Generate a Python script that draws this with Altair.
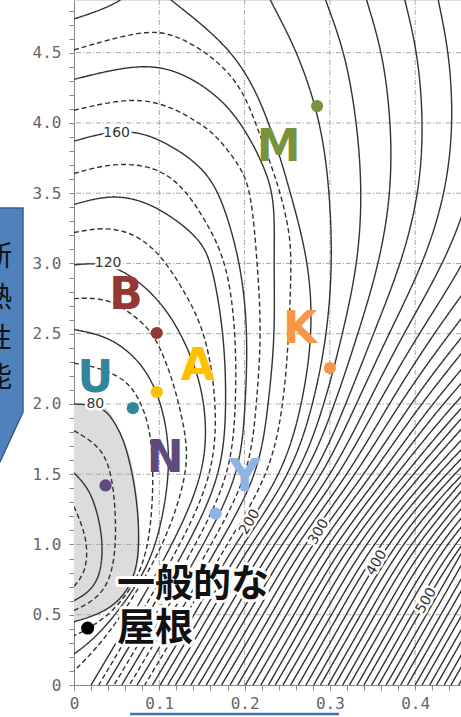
import altair as alt
import pandas as pd

# Plot window (chart units)
X_MAX = 0.4537
Y_MAX = 4.875

# Closed / left-anchored contour curves, (x, y) points per contour level
ARC_POINTS = {
    50: [(0.0, 1.27), (0.012, 1.1), (0.016, 0.95), (0.013, 0.8), (0.0, 0.7)],
    60: [(0.0, 1.51), (0.019, 1.39), (0.03, 1.17), (0.034, 0.98), (0.031, 0.78), (0.018, 0.66), (0.0, 0.6)],
    70: [(0.0, 1.81), (0.034, 1.69), (0.046, 1.46), (0.05, 1.1), (0.046, 0.8), (0.03, 0.62), (0.0, 0.53)],
    80: [(0.0, 2.0), (0.034, 1.99), (0.05, 1.85), (0.062, 1.69), (0.074, 1.34), (0.077, 1.0),
         (0.072, 0.78), (0.055, 0.6), (0.028, 0.5), (0.0, 0.45)],
    90: [(0.0, 2.29), (0.03, 2.26), (0.062, 2.17), (0.077, 2.03), (0.089, 1.84), (0.094, 1.5),
         (0.089, 1.0), (0.072, 0.72), (0.045, 0.52), (0.02, 0.41), (0.0, 0.35)],
    100: [(0.0, 2.53), (0.042, 2.48), (0.077, 2.31), (0.097, 2.1), (0.109, 1.84), (0.113, 1.5),
          (0.098, 1.0), (0.075, 0.72), (0.045, 0.47), (0.02, 0.31), (0.0, 0.22)],
    110: [(0.0, 2.75), (0.042, 2.76), (0.081, 2.58), (0.097, 2.46), (0.113, 2.22), (0.124, 1.98),
          (0.132, 1.74), (0.133, 1.5), (0.107, 1.0), (0.057, 0.5), (0.025, 0.25), (0.0, 0.1)],
    120: [(0.0, 2.99), (0.04, 3.01), (0.081, 2.86), (0.116, 2.62), (0.144, 2.26), (0.156, 1.91),
          (0.153, 1.5), (0.116, 1.0), (0.069, 0.5), (0.02, 0.0)],
    130: [(0.0, 3.22), (0.035, 3.26), (0.069, 3.22), (0.1, 3.08), (0.13, 2.8), (0.155, 2.5),
          (0.168, 2.0), (0.164, 1.5), (0.125, 1.0), (0.078, 0.5), (0.029, 0.0)],
    140: [(0.0, 3.42), (0.042, 3.49), (0.081, 3.45), (0.116, 3.33), (0.148, 3.17), (0.162, 3.0),
          (0.176, 2.5), (0.179, 2.0), (0.174, 1.5), (0.134, 1.0), (0.087, 0.5), (0.038, 0.0)],
    150: [(0.0, 3.64), (0.047, 3.72), (0.097, 3.69), (0.129, 3.54), (0.155, 3.3), (0.18, 3.0),
          (0.19, 2.5), (0.19, 2.0), (0.184, 1.5), (0.143, 1.0), (0.096, 0.5), (0.047, 0.0)],
    160: [(0.0, 3.87), (0.04, 3.94), (0.079, 3.94), (0.117, 3.83), (0.149, 3.69), (0.172, 3.5),
          (0.196, 3.0), (0.204, 2.5), (0.201, 2.0), (0.195, 1.5), (0.152, 1.0), (0.105, 0.5), (0.056, 0.0)],
    170: [(0.0, 4.09), (0.07, 4.19), (0.117, 4.11), (0.146, 4.0), (0.164, 3.93), (0.196, 3.69),
          (0.208, 3.5), (0.215, 3.0), (0.22, 2.5), (0.214, 2.0), (0.206, 1.5), (0.161, 1.0),
          (0.114, 0.5), (0.065, 0.0)],
    180: [(0.0, 4.31), (0.079, 4.43), (0.129, 4.36), (0.176, 4.16), (0.203, 3.93), (0.223, 3.69),
          (0.236, 3.45), (0.234, 3.0), (0.236, 2.5), (0.228, 2.0), (0.217, 1.5), (0.17, 1.0),
          (0.123, 0.5), (0.074, 0.0)],
    190: [(0.0, 4.52), (0.079, 4.66), (0.117, 4.64), (0.164, 4.47), (0.196, 4.26), (0.213, 4.0),
          (0.241, 3.54), (0.253, 3.22), (0.255, 3.0), (0.252, 2.5), (0.246, 2.0), (0.23, 1.5),
          (0.179, 1.0), (0.132, 0.5), (0.083, 0.0)],
}

# Short branch of the 200 contour leaving through the top edge
TOP_200 = [(0.0, 4.74), (0.03, 4.8), (0.055, 4.87), (0.07, 4.95)]

# Contours 200, 210, 220, ... : x position at each height level
ROW_Y = [0.0, 0.5, 1.0, 1.5, 2.0, 2.5, 3.0, 3.5, 4.0, 4.5, 4.87, 4.95]
ROW_X = [
    [0.092, 0.101, 0.110, 0.119, 0.128, 0.137, 0.146, 0.155, 0.164, 0.173,
     0.183, 0.192, 0.201, 0.210, 0.219, 0.228, 0.236, 0.245, 0.254, 0.263,
     0.272, 0.281, 0.289, 0.298, 0.306, 0.315, 0.323, 0.332, 0.340, 0.349,
     0.357, 0.366, 0.374, 0.383, 0.391, 0.400, 0.408, 0.417, 0.425, 0.434,
     0.442, 0.451],
    [0.141, 0.150, 0.159, 0.168, 0.177, 0.186, 0.195, 0.204, 0.213, 0.222,
     0.231, 0.240, 0.249, 0.258, 0.267, 0.275, 0.284, 0.293, 0.302, 0.310,
     0.319, 0.328, 0.336, 0.345, 0.353, 0.362, 0.370, 0.379, 0.387, 0.396,
     0.404, 0.413, 0.421, 0.430, 0.438, 0.447, 0.455, 0.464, 0.472, 0.481,
     0.489, 0.498],
    [0.188, 0.197, 0.206, 0.215, 0.224, 0.233, 0.242, 0.251, 0.260, 0.269,
     0.278, 0.287, 0.296, 0.305, 0.314, 0.322, 0.331, 0.340, 0.349, 0.357,
     0.366, 0.375, 0.383, 0.392, 0.400, 0.409, 0.417, 0.426, 0.434, 0.443,
     0.451, 0.460, 0.468, 0.477, 0.485, 0.494, 0.502],
    [0.245, 0.255, 0.265, 0.274, 0.284, 0.293, 0.303, 0.312, 0.322, 0.331,
     0.341, 0.350, 0.360, 0.369, 0.378, 0.388, 0.397, 0.406, 0.416, 0.425,
     0.434, 0.443, 0.452, 0.462, 0.471, 0.480, 0.489, 0.498, 0.507, 0.516,
     0.525],
    [0.268, 0.281, 0.294, 0.306, 0.319, 0.331, 0.344, 0.356, 0.369, 0.381,
     0.394, 0.406, 0.419, 0.431, 0.444, 0.456, 0.469, 0.481, 0.494, 0.506,
     0.519, 0.531, 0.544],
    [0.280, 0.297, 0.315, 0.333, 0.351, 0.369, 0.386, 0.404, 0.421, 0.439,
     0.456, 0.473, 0.490, 0.507, 0.524, 0.541],
    [0.276, 0.303, 0.333, 0.358, 0.384, 0.410, 0.434, 0.458, 0.482, 0.506, 0.530],
    [0.254, 0.300, 0.338, 0.372, 0.405, 0.436, 0.466, 0.495],
    [0.230, 0.290, 0.332, 0.372, 0.410, 0.445, 0.478],
    [0.193, 0.263, 0.318, 0.362, 0.403, 0.440, 0.476],
    [0.114, 0.230, 0.295, 0.343, 0.388, 0.427, 0.465],
    [0.100, 0.225, 0.291, 0.340, 0.385, 0.425, 0.463],
]

# Contour value labels
LABEL_TEXT = ["80", "120", "160", "200", "300", "400", "500"]
LABEL_X = [0.025, 0.04, 0.05, 0.206, 0.287, 0.355, 0.413]
LABEL_Y = [2.0, 3.0, 3.93, 1.16, 1.09, 0.87, 0.6]
LABEL_ANGLE = [0, 0, 0, 300, 300, 300, 300]

# Buildings
SITE = ["M", "B", "U", "A", "N", "Y", "K"]
DOT_X = [0.285, 0.097, 0.069, 0.097, 0.037, 0.166, 0.300]
DOT_Y = [4.12, 2.505, 1.97, 2.085, 1.42, 1.22, 2.256]
LETTER_X = [0.240, 0.061, 0.025, 0.145, 0.107, 0.200, 0.265]
LETTER_Y = [3.82, 2.77, 2.18, 2.26, 1.61, 1.47, 2.53]
SITE_COLOR = ["#77933c", "#953735", "#31859c", "#ffc000", "#604a7b", "#8eb4e3", "#f79646"]

# Typical roof
ROOF_X = [0.016]
ROOF_Y = [0.405]
ROOF_TEXT = ["一般的な", "屋根"]
ROOF_TEXT_X = [0.0504, 0.0504]
ROOF_TEXT_Y = [0.712, 0.40]

# Callout box on the left edge and frame edge below the axis
CALLOUT_X = [-0.0598, -0.0598, -0.0868]
CALLOUT_Y = [3.395, 1.943, 1.587]
CALLOUT_CHARS = ["断", "熱", "性", "能"]
CALLOUT_CHAR_Y = [3.039, 2.745, 2.456, 2.175]
CALLOUT_CHAR_X = -0.0891
FRAME_X = [0.0657, 0.3107]
FRAME_Y = -0.206

GRID_X = [0.1, 0.2, 0.3, 0.4]
GRID_Y = [0.5, 1.0, 1.5, 2.0, 2.5, 3.0, 3.5, 4.0, 4.5]
Y_TICKS = [round(i * 0.1, 1) for i in range(0, 49)]
X_TICKS = [round(i * 0.02, 2) for i in range(0, 23)]

# ---- tables -------------------------------------------------------------
line_rows = []
for level, pts in ARC_POINTS.items():
    style = "solid" if level % 20 == 0 else "dashed"
    for k, (x, y) in enumerate(pts):
        line_rows.append({"line": f"a{level}", "seq": k, "x": x, "y": y, "style": style})
for k, (x, y) in enumerate(TOP_200):
    line_rows.append({"line": "t200", "seq": k, "x": x, "y": y, "style": "solid"})
n_right = max(len(r) for r in ROW_X)
for i in range(n_right):
    k = 0
    for y, xs in zip(ROW_Y, ROW_X):
        if i < len(xs):
            line_rows.append({"line": f"r{200 + 10 * i}", "seq": k, "x": xs[i], "y": y, "style": "solid"})
            k += 1
lines_df = pd.DataFrame(line_rows)

gray_df = pd.DataFrame(ARC_POINTS[80], columns=["x", "y"])
label_df = pd.DataFrame({"text": LABEL_TEXT, "x": LABEL_X, "y": LABEL_Y, "angle": LABEL_ANGLE})
site_df = pd.DataFrame({"site": SITE, "x": DOT_X, "y": DOT_Y, "lx": LETTER_X, "ly": LETTER_Y,
                        "color": SITE_COLOR})
roof_df = pd.DataFrame({"x": ROOF_X, "y": ROOF_Y})
roof_text_df = pd.DataFrame({"text": ROOF_TEXT, "x": ROOF_TEXT_X, "y": ROOF_TEXT_Y})
callout_df = pd.DataFrame({"x": CALLOUT_X, "y": CALLOUT_Y})
callout_text_df = pd.DataFrame({"text": CALLOUT_CHARS, "y": CALLOUT_CHAR_Y,
                                "x": [CALLOUT_CHAR_X] * len(CALLOUT_CHARS)})
frame_df = pd.DataFrame({"x": [FRAME_X[0]], "x2": [FRAME_X[1]], "y": [FRAME_Y]})
gx_df = pd.DataFrame({"gx": GRID_X})
gy_df = pd.DataFrame({"gy": GRID_Y})

# ---- scales & axes -----------------------------------------------------
xs = alt.Scale(domain=[0, X_MAX], nice=False, zero=False)
ys = alt.Scale(domain=[0, Y_MAX], nice=False, zero=False)

x_axis = alt.Axis(
    values=X_TICKS, title=None, grid=False, tickSize=5, tickColor="#888", domainColor="#888",
    labelExpr="abs(datum.value*10 - round(datum.value*10)) < 0.001 ? (datum.value == 0 ? '0' : format(datum.value, '.1f')) : ''",
    labelFont="DejaVu Sans Mono", labelFontSize=16, labelColor="#666", labelPadding=5,
    labelOverlap=False, labelFlush=False,
)
y_axis = alt.Axis(
    values=Y_TICKS, title=None, grid=False, tickSize=5, tickColor="#888", domainColor="#888",
    labelExpr="abs(datum.value*2 - round(datum.value*2)) < 0.001 ? (datum.value == 0 ? '0' : format(datum.value, '.1f')) : ''",
    labelFont="DejaVu Sans Mono", labelFontSize=16, labelColor="#666", labelPadding=8,
    labelOverlap=False, labelFlush=False,
)


def X(field="x"):
    return alt.X(f"{field}:Q", scale=xs, axis=x_axis)


def Y(field="y"):
    return alt.Y(f"{field}:Q", scale=ys, axis=y_axis)


gray = alt.Chart(gray_df).mark_area(orient="horizontal", color="#dcdcdc", interpolate="monotone").encode(
    y=Y(), x=X(), x2=alt.datum(0)
)

grid_v = alt.Chart(gx_df).mark_rule(color="#a8a8a8", strokeWidth=1, strokeDash=[5, 2, 1, 2]).encode(x=X("gx"))
grid_h = alt.Chart(gy_df).mark_rule(color="#a8a8a8", strokeWidth=1, strokeDash=[5, 2, 1, 2]).encode(y=Y("gy"))

contours = alt.Chart(lines_df).mark_line(
    clip=True, interpolate="basis", strokeWidth=1.4, color="#333333"
).encode(
    x=X(), y=Y(), detail="line:N", order="seq:Q",
    strokeDash=alt.StrokeDash("style:N", scale=alt.Scale(domain=["solid", "dashed"], range=[[1, 0], [5, 3]]),
                              legend=None),
)

label_halo = alt.Chart(label_df).mark_text(
    font="DejaVu Sans", fontSize=14, stroke="white", strokeWidth=5, strokeJoin="round", color="white"
).encode(x=X(), y=Y(), text="text:N", angle=alt.Angle("angle:Q", scale=None))
label_text = alt.Chart(label_df).mark_text(font="DejaVu Sans", fontSize=14, color="#333").encode(
    x=X(), y=Y(), text="text:N", angle=alt.Angle("angle:Q", scale=None)
)

callout = alt.Chart(callout_df).mark_area(
    orient="horizontal", color="#4f81bd", stroke="#385d8a", strokeWidth=1.5, clip=False, interpolate="linear"
).encode(y=Y(), x=X(), x2=alt.datum(-0.12))
callout_text = alt.Chart(callout_text_df).mark_text(
    font="Noto Sans CJK JP", fontSize=28, color="#111", clip=False
).encode(x=X(), y=Y(), text="text:N")

frame_edge = alt.Chart(frame_df).mark_rule(color="#4472b4", strokeWidth=2.5, clip=False).encode(
    x=X(), x2="x2:Q", y=Y()
)

dots = alt.Chart(site_df).mark_circle(size=150, opacity=1).encode(
    x=X(), y=Y(), color=alt.Color("color:N", scale=None)
)
letters = alt.Chart(site_df).mark_text(font="DejaVu Sans", fontWeight="bold", fontSize=44).encode(
    x=X("lx"), y=Y("ly"), text="site:N", color=alt.Color("color:N", scale=None)
)

roof_dot = alt.Chart(roof_df).mark_circle(size=170, opacity=1, color="black").encode(x=X(), y=Y())
roof_halo = alt.Chart(roof_text_df).mark_text(
    font="Noto Sans CJK JP", fontWeight="bold", fontSize=38, align="left", stroke="white",
    strokeWidth=6, strokeJoin="round", color="white"
).encode(x=X(), y=Y(), text="text:N")
roof_text = alt.Chart(roof_text_df).mark_text(
    font="Noto Sans CJK JP", fontWeight="bold", fontSize=38, align="left", color="#111"
).encode(x=X(), y=Y(), text="text:N")

chart = alt.layer(
    gray, grid_v, grid_h, contours, label_halo, label_text, callout, callout_text, frame_edge,
    dots, letters, roof_dot, roof_halo, roof_text
).properties(
    width=387, height=685,
    padding={"left": 74, "right": 0, "top": 0, "bottom": 32},
    autosize=alt.AutoSizeParams(type="none"),
).configure_view(stroke=None).configure(background="white")

chart.save("out.html", embed_options={"renderer": "svg", "actions": False})
